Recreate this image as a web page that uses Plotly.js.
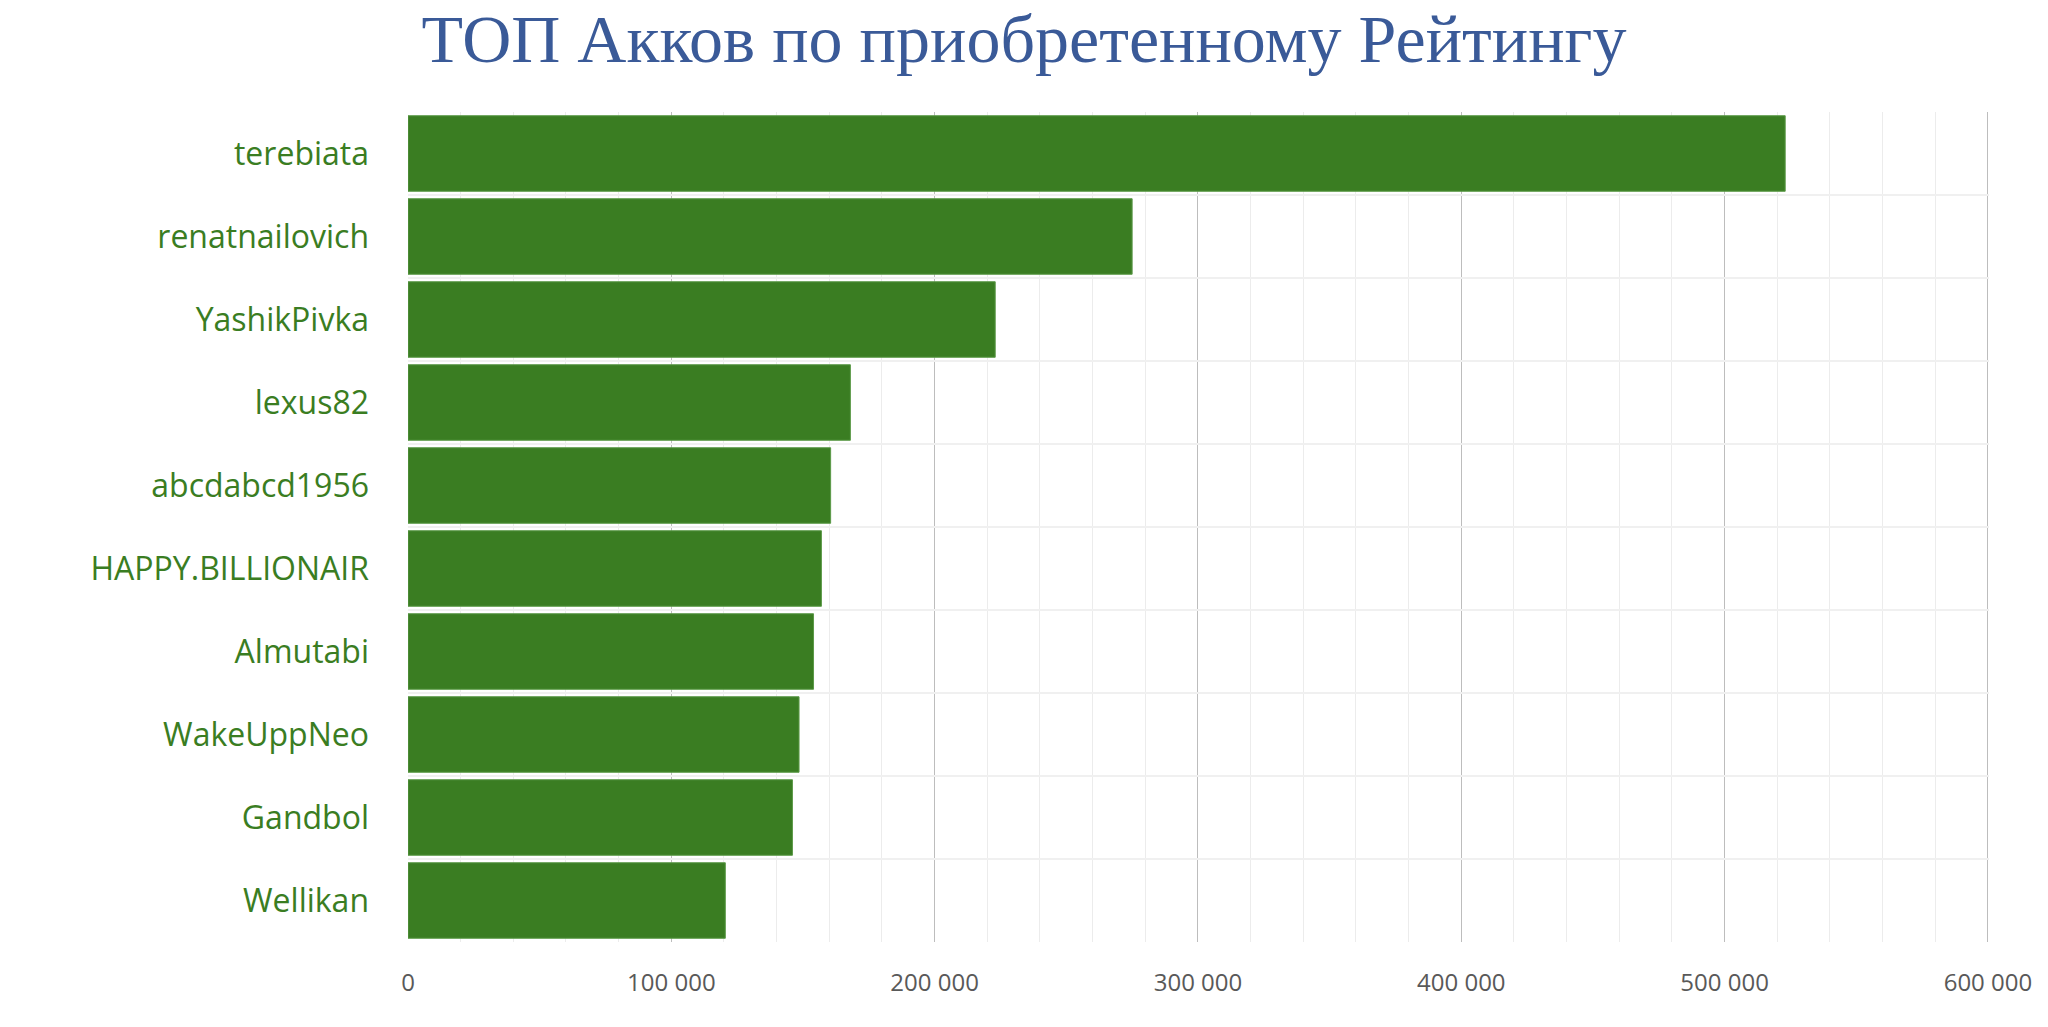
<!DOCTYPE html>
<html>
<head>
<meta charset="utf-8">
<script src="https://cdn.plot.ly/plotly-3.0.1.min.js"></script>
<style>
  html, body { margin: 0; padding: 0; background: #fff; }
  #graphDiv { width: 2048px; height: 1027px; }
</style>
</head>
<body>
<div id="graphDiv"></div>
<script>
// accounts, top to bottom
var accounts = ['terebiata', 'renatnailovich', 'YashikPivka', 'lexus82', 'abcdabcd1956',
                'HAPPY.BILLIONAIR', 'Almutabi', 'WakeUppNeo', 'Gandbol', 'Wellikan'];
// acquired rating
var rating = [523000, 275000, 223000, 168000, 160500, 157000, 154000, 148500, 146000, 120500];
var xTicks = [0, 100000, 200000, 300000, 400000, 500000, 600000];

function initGraph()
{
  var trace1 = {
    x: rating,
    y: accounts,
    type: 'bar',
    orientation: 'h',
    marker: {color: '#3a7d22', line: {color: '#5c9a48', width: 1}},
    hoverinfo: 'x+y'
  };

  var data = [trace1];

  var layout = {
    width: 2048,
    height: 1027,
    margin: {l: 408, r: 59, t: 112, b: 85},
    paper_bgcolor: '#ffffff',
    plot_bgcolor: '#ffffff',
    separators: ', ',
    showlegend: false,
    bargap: 0.09,
    title: {
      text: 'ТОП Акков по приобретенному Рейтингу',
      x: 0.5,
      xanchor: 'center',
      y: 0.963,
      yanchor: 'middle',
      font: {family: '"Liberation Serif", "Times New Roman", serif', size: 68, color: '#3a5a98'}
    },
    xaxis: {
      // a hair past 600 000 so the last grid line shows at the right edge
      range: [0, 600400],
      tickvals: xTicks,
      tickformat: ',d',
      showgrid: true,
      gridcolor: '#bdbdbd',
      gridwidth: 1,
      zeroline: false,
      showline: false,
      ticks: '',
      ticklabelstandoff: 24,
      tickfont: {family: '"Open Sans", "Noto Sans", sans-serif', size: 24, color: '#595959'},
      minor: {dtick: 20000, showgrid: true, gridcolor: '#ececec', gridwidth: 1}
    },
    yaxis: {
      type: 'category',
      autorange: 'reversed',
      tickson: 'boundaries',
      showgrid: true,
      gridcolor: '#f0f0f0',
      gridwidth: 2,
      showline: false,
      ticks: '',
      ticklabelstandoff: 38,
      tickfont: {family: '"Open Sans", "Noto Sans", sans-serif', size: 32, color: '#3a7d22'}
    }
  };

  Plotly.newPlot('graphDiv', data, layout, {displayModeBar: false, staticPlot: true});
}
initGraph();
</script>
</body>
</html>
